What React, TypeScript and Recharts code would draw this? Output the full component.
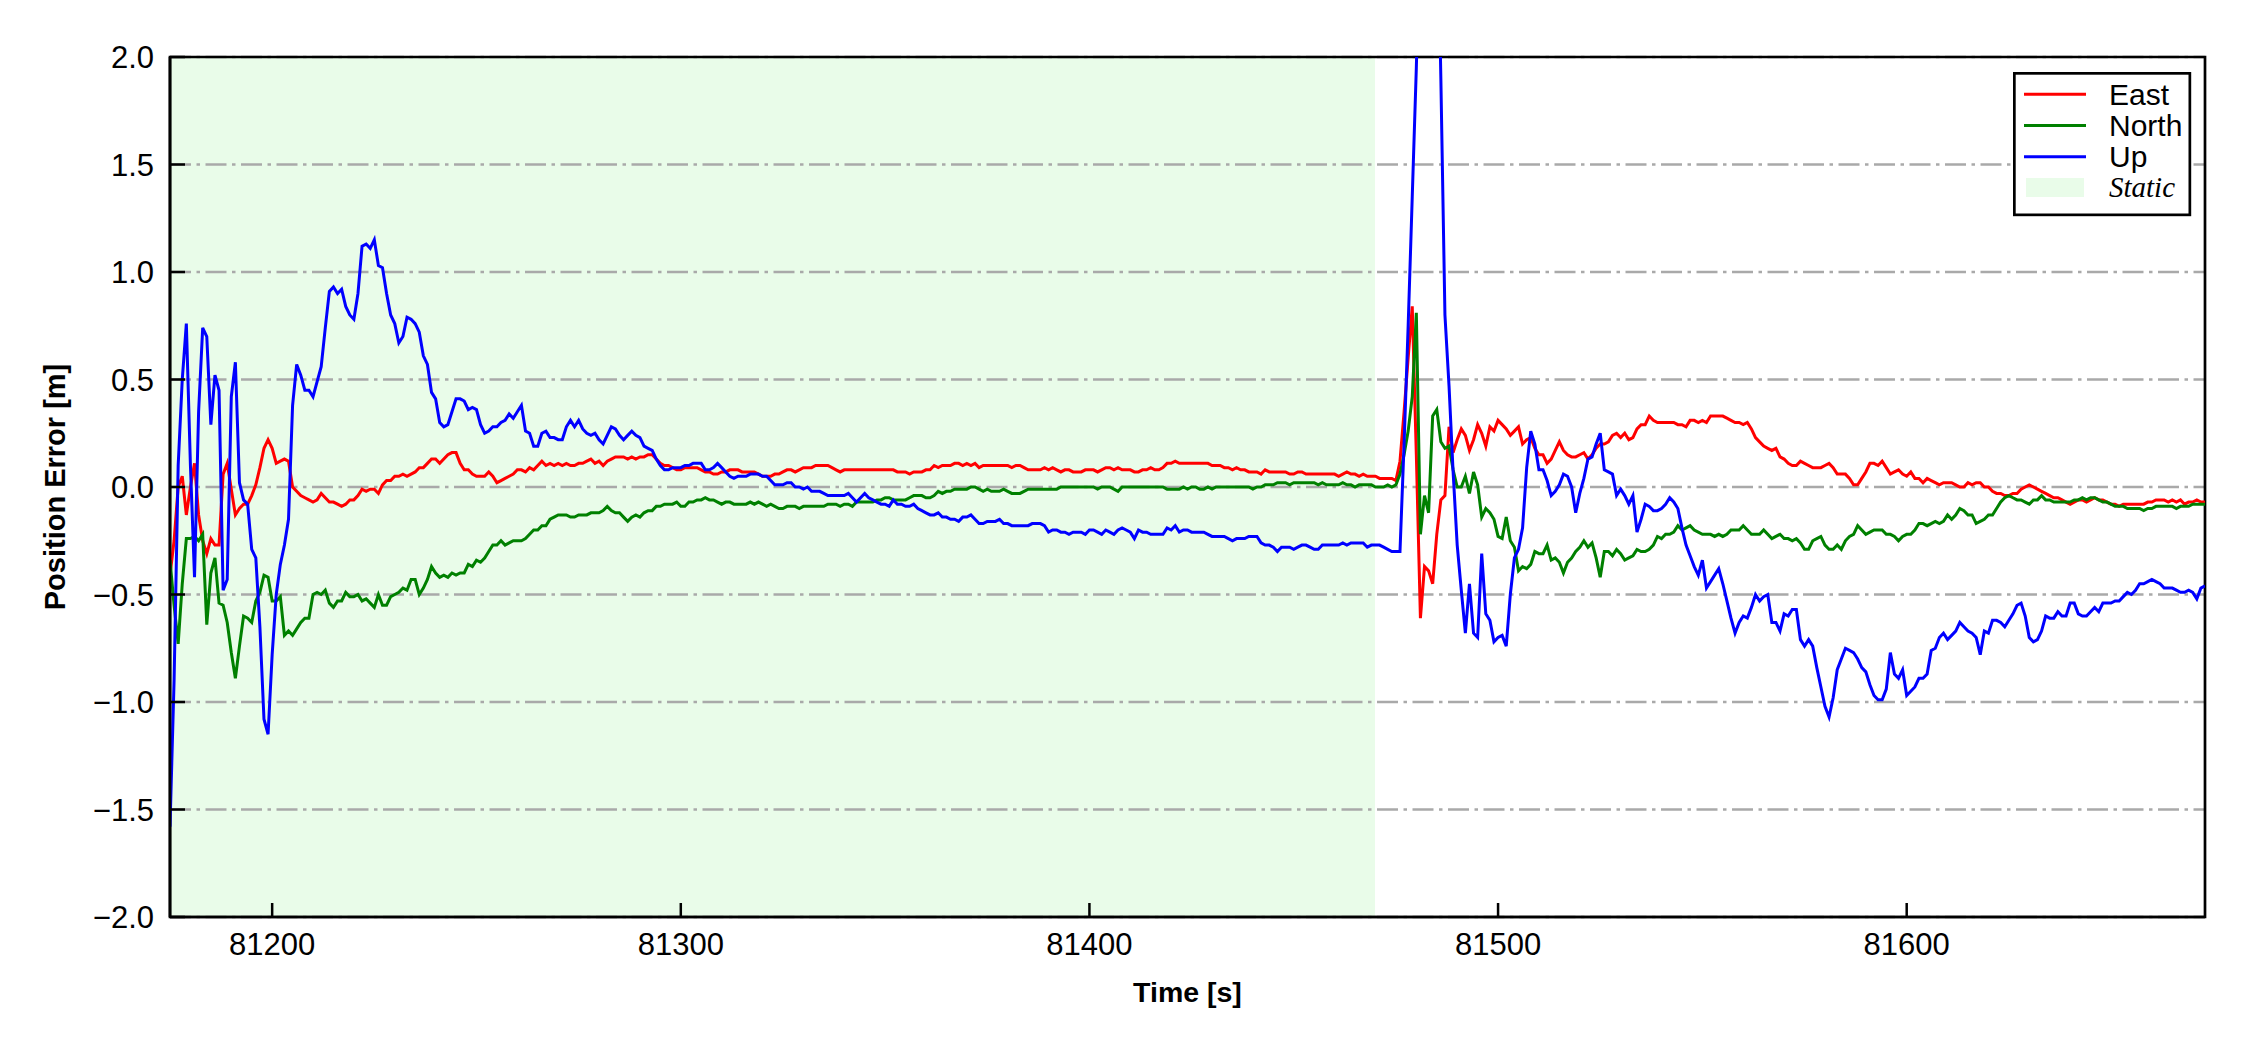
import React from 'react';
import {
  LineChart,
  Line,
  XAxis,
  YAxis,
  CartesianGrid,
  ReferenceArea,
  Legend,
  Label
} from 'recharts';

// position error per epoch (1 s), starting at startTime
const startTime = 81175;
const endTime = 81673;
const staticEnd = 81470;

const east = [
  -0.41, -0.25, 0.00, 0.05, -0.13, 0.00, 0.11, -0.13, -0.25, -0.31,
  -0.24, -0.27, -0.27, 0.06, 0.11, -0.01, -0.13, -0.10, -0.08, -0.08,
  -0.04, 0.01, 0.09, 0.18, 0.22, 0.18, 0.11, 0.12, 0.13, 0.12,
  0.00, -0.02, -0.04, -0.05, -0.06, -0.07, -0.06, -0.03, -0.05, -0.07,
  -0.07, -0.08, -0.09, -0.08, -0.06, -0.06, -0.04, -0.01, -0.02, -0.01,
  -0.01, -0.03, 0.01, 0.03, 0.03, 0.05, 0.05, 0.06, 0.05, 0.06,
  0.07, 0.09, 0.09, 0.11, 0.13, 0.13, 0.11, 0.13, 0.15, 0.16,
  0.16, 0.11, 0.08, 0.08, 0.06, 0.05, 0.05, 0.05, 0.07, 0.05,
  0.02, 0.03, 0.04, 0.05, 0.06, 0.08, 0.08, 0.07, 0.09, 0.08,
  0.10, 0.12, 0.10, 0.11, 0.10, 0.11, 0.10, 0.11, 0.10, 0.10,
  0.11, 0.11, 0.12, 0.13, 0.11, 0.12, 0.10, 0.12, 0.13, 0.14,
  0.14, 0.14, 0.13, 0.14, 0.13, 0.14, 0.14, 0.15, 0.15, 0.13,
  0.11, 0.10, 0.10, 0.09, 0.08, 0.08, 0.09, 0.09, 0.09, 0.09,
  0.08, 0.07, 0.07, 0.06, 0.06, 0.07, 0.07, 0.08, 0.08, 0.08,
  0.07, 0.07, 0.07, 0.07, 0.06, 0.05, 0.05, 0.05, 0.06, 0.06,
  0.07, 0.08, 0.08, 0.07, 0.08, 0.09, 0.09, 0.09, 0.10, 0.10,
  0.10, 0.10, 0.09, 0.08, 0.07, 0.08, 0.08, 0.08, 0.08, 0.08,
  0.08, 0.08, 0.08, 0.08, 0.08, 0.08, 0.08, 0.08, 0.07, 0.07,
  0.07, 0.06, 0.07, 0.07, 0.07, 0.08, 0.08, 0.10, 0.09, 0.10,
  0.10, 0.10, 0.11, 0.11, 0.10, 0.11, 0.10, 0.11, 0.09, 0.10,
  0.10, 0.10, 0.10, 0.10, 0.10, 0.10, 0.09, 0.10, 0.10, 0.09,
  0.08, 0.08, 0.08, 0.08, 0.09, 0.08, 0.09, 0.08, 0.07, 0.08,
  0.08, 0.07, 0.07, 0.07, 0.08, 0.08, 0.08, 0.07, 0.08, 0.09,
  0.09, 0.08, 0.09, 0.08, 0.08, 0.08, 0.07, 0.07, 0.08, 0.08,
  0.09, 0.08, 0.08, 0.09, 0.11, 0.11, 0.12, 0.11, 0.11, 0.11,
  0.11, 0.11, 0.11, 0.11, 0.11, 0.10, 0.10, 0.10, 0.09, 0.09,
  0.08, 0.09, 0.08, 0.08, 0.07, 0.07, 0.07, 0.06, 0.08, 0.07,
  0.07, 0.07, 0.07, 0.07, 0.06, 0.06, 0.07, 0.07, 0.06, 0.06,
  0.06, 0.06, 0.06, 0.06, 0.06, 0.06, 0.05, 0.06, 0.07, 0.06,
  0.06, 0.05, 0.06, 0.05, 0.05, 0.05, 0.04, 0.04, 0.04, 0.04,
  0.03, 0.12, 0.35, 0.60, 0.84, 0.15, -0.61, -0.37, -0.39, -0.45,
  -0.22, -0.06, -0.04, 0.28, 0.16, 0.22, 0.27, 0.24, 0.17, 0.22,
  0.29, 0.25, 0.19, 0.28, 0.26, 0.31, 0.29, 0.27, 0.24, 0.26,
  0.28, 0.20, 0.22, 0.23, 0.18, 0.15, 0.15, 0.11, 0.13, 0.17,
  0.21, 0.17, 0.15, 0.14, 0.14, 0.15, 0.16, 0.13, 0.15, 0.18,
  0.20, 0.20, 0.21, 0.24, 0.25, 0.23, 0.25, 0.22, 0.23, 0.27,
  0.29, 0.29, 0.33, 0.31, 0.30, 0.30, 0.30, 0.30, 0.30, 0.29,
  0.29, 0.28, 0.31, 0.31, 0.30, 0.31, 0.30, 0.33, 0.33, 0.33,
  0.33, 0.32, 0.31, 0.30, 0.30, 0.29, 0.30, 0.27, 0.23, 0.21,
  0.19, 0.18, 0.17, 0.18, 0.14, 0.13, 0.11, 0.10, 0.10, 0.12,
  0.11, 0.10, 0.09, 0.09, 0.09, 0.10, 0.11, 0.09, 0.06, 0.06,
  0.06, 0.04, 0.01, 0.01, 0.04, 0.07, 0.11, 0.11, 0.10, 0.12,
  0.09, 0.06, 0.07, 0.08, 0.06, 0.05, 0.07, 0.04, 0.04, 0.02,
  0.04, 0.03, 0.02, 0.01, 0.02, 0.02, 0.02, 0.01, 0.00, 0.00,
  0.02, 0.01, 0.02, 0.02, 0.00, 0.00, -0.02, -0.03, -0.03, -0.04,
  -0.04, -0.03, -0.03, -0.01, 0.00, 0.01, 0.00, -0.01, -0.02, -0.03,
  -0.04, -0.05, -0.05, -0.06, -0.07, -0.08, -0.07, -0.06, -0.06, -0.07,
  -0.06, -0.05, -0.06, -0.06, -0.07, -0.08, -0.08, -0.09, -0.08, -0.08,
  -0.08, -0.08, -0.08, -0.08, -0.07, -0.07, -0.06, -0.06, -0.06, -0.07,
  -0.06, -0.07, -0.06, -0.08, -0.07, -0.07, -0.06, -0.07, -0.07
];

const north = [
  -0.34, -0.55, -0.73, -0.45, -0.24, -0.24, -0.23, -0.25, -0.22, -0.64,
  -0.40, -0.33, -0.54, -0.55, -0.63, -0.77, -0.89, -0.74, -0.60, -0.61,
  -0.63, -0.53, -0.49, -0.41, -0.42, -0.53, -0.53, -0.51, -0.69, -0.67,
  -0.69, -0.66, -0.63, -0.61, -0.61, -0.50, -0.49, -0.50, -0.48, -0.54,
  -0.56, -0.53, -0.53, -0.49, -0.51, -0.51, -0.50, -0.53, -0.52, -0.54,
  -0.56, -0.50, -0.55, -0.55, -0.51, -0.50, -0.49, -0.47, -0.48, -0.43,
  -0.43, -0.50, -0.47, -0.43, -0.37, -0.40, -0.42, -0.41, -0.42, -0.40,
  -0.41, -0.40, -0.40, -0.36, -0.37, -0.34, -0.35, -0.33, -0.30, -0.27,
  -0.27, -0.25, -0.27, -0.26, -0.25, -0.25, -0.25, -0.24, -0.22, -0.20,
  -0.20, -0.18, -0.18, -0.15, -0.14, -0.13, -0.13, -0.13, -0.14, -0.14,
  -0.13, -0.13, -0.13, -0.12, -0.12, -0.12, -0.11, -0.09, -0.11, -0.12,
  -0.12, -0.14, -0.16, -0.14, -0.13, -0.14, -0.12, -0.11, -0.11, -0.09,
  -0.09, -0.08, -0.08, -0.08, -0.07, -0.09, -0.09, -0.07, -0.07, -0.06,
  -0.06, -0.05, -0.06, -0.06, -0.07, -0.08, -0.07, -0.07, -0.08, -0.08,
  -0.08, -0.08, -0.07, -0.08, -0.07, -0.08, -0.09, -0.08, -0.09, -0.10,
  -0.10, -0.09, -0.09, -0.09, -0.10, -0.09, -0.09, -0.09, -0.09, -0.09,
  -0.09, -0.08, -0.08, -0.08, -0.09, -0.08, -0.08, -0.09, -0.07, -0.07,
  -0.07, -0.07, -0.07, -0.06, -0.06, -0.05, -0.05, -0.06, -0.06, -0.06,
  -0.06, -0.05, -0.04, -0.04, -0.04, -0.05, -0.05, -0.04, -0.02, -0.03,
  -0.02, -0.02, -0.01, -0.01, -0.01, -0.01, 0.00, 0.00, -0.01, -0.02,
  -0.01, -0.02, -0.02, -0.02, -0.01, -0.02, -0.03, -0.03, -0.03, -0.02,
  -0.01, -0.01, -0.01, -0.01, -0.01, -0.01, -0.01, -0.01, 0.00, 0.00,
  0.00, 0.00, 0.00, 0.00, 0.00, 0.00, 0.00, -0.01, 0.00, 0.00,
  0.00, -0.01, -0.02, 0.00, 0.00, 0.00, 0.00, 0.00, 0.00, 0.00,
  0.00, 0.00, 0.00, 0.00, -0.01, -0.01, -0.01, -0.01, 0.00, -0.01,
  0.00, 0.00, -0.01, -0.01, 0.00, -0.01, 0.00, 0.00, 0.00, 0.00,
  0.00, 0.00, 0.00, 0.00, 0.00, -0.01, 0.00, 0.00, 0.01, 0.01,
  0.01, 0.02, 0.02, 0.02, 0.01, 0.02, 0.02, 0.02, 0.02, 0.02,
  0.02, 0.01, 0.02, 0.01, 0.01, 0.01, 0.01, 0.02, 0.01, 0.01,
  0.00, 0.01, 0.01, 0.01, 0.01, 0.00, 0.00, 0.00, 0.01, 0.00,
  0.01, 0.06, 0.15, 0.26, 0.42, 0.81, -0.22, -0.04, -0.12, 0.33,
  0.36, 0.21, 0.18, 0.19, 0.08, 0.00, 0.00, 0.05, -0.03, 0.07,
  0.01, -0.14, -0.10, -0.12, -0.15, -0.23, -0.24, -0.14, -0.25, -0.28,
  -0.39, -0.37, -0.38, -0.36, -0.30, -0.31, -0.31, -0.27, -0.34, -0.33,
  -0.35, -0.40, -0.35, -0.33, -0.30, -0.28, -0.25, -0.28, -0.26, -0.33,
  -0.42, -0.30, -0.30, -0.32, -0.29, -0.31, -0.34, -0.33, -0.32, -0.29,
  -0.30, -0.30, -0.29, -0.27, -0.23, -0.24, -0.22, -0.22, -0.21, -0.18,
  -0.20, -0.19, -0.18, -0.20, -0.21, -0.22, -0.22, -0.22, -0.23, -0.22,
  -0.23, -0.22, -0.20, -0.20, -0.20, -0.18, -0.20, -0.22, -0.22, -0.22,
  -0.20, -0.22, -0.24, -0.23, -0.22, -0.24, -0.24, -0.25, -0.24, -0.26,
  -0.29, -0.29, -0.25, -0.24, -0.23, -0.27, -0.29, -0.29, -0.27, -0.29,
  -0.25, -0.23, -0.22, -0.18, -0.20, -0.22, -0.21, -0.20, -0.20, -0.20,
  -0.22, -0.22, -0.23, -0.25, -0.23, -0.22, -0.22, -0.20, -0.17, -0.17,
  -0.18, -0.17, -0.16, -0.17, -0.16, -0.13, -0.15, -0.13, -0.10, -0.11,
  -0.13, -0.13, -0.17, -0.16, -0.15, -0.13, -0.13, -0.10, -0.07, -0.05,
  -0.04, -0.05, -0.06, -0.06, -0.07, -0.08, -0.06, -0.06, -0.04, -0.06,
  -0.06, -0.07, -0.07, -0.07, -0.07, -0.07, -0.06, -0.06, -0.05, -0.06,
  -0.05, -0.05, -0.06, -0.07, -0.07, -0.08, -0.09, -0.09, -0.09, -0.10,
  -0.10, -0.10, -0.10, -0.11, -0.10, -0.10, -0.09, -0.09, -0.09, -0.09,
  -0.09, -0.10, -0.09, -0.09, -0.09, -0.08, -0.08, -0.08, -0.08
];

const up = [
  -1.58, -0.90, 0.10, 0.50, 0.76, 0.10, -0.42, 0.35, 0.74, 0.70,
  0.29, 0.52, 0.45, -0.48, -0.43, 0.42, 0.58, 0.02, -0.06, -0.08,
  -0.29, -0.33, -0.65, -1.08, -1.15, -0.78, -0.50, -0.36, -0.27, -0.15,
  0.38, 0.57, 0.52, 0.45, 0.45, 0.42, 0.49, 0.56, 0.74, 0.91,
  0.93, 0.90, 0.92, 0.84, 0.80, 0.78, 0.90, 1.12, 1.13, 1.11,
  1.15, 1.03, 1.02, 0.90, 0.80, 0.76, 0.67, 0.70, 0.79, 0.78,
  0.76, 0.72, 0.61, 0.57, 0.44, 0.41, 0.30, 0.28, 0.29, 0.35,
  0.41, 0.41, 0.40, 0.36, 0.37, 0.36, 0.29, 0.25, 0.26, 0.28,
  0.28, 0.30, 0.31, 0.34, 0.32, 0.35, 0.38, 0.26, 0.25, 0.19,
  0.19, 0.25, 0.26, 0.23, 0.23, 0.22, 0.22, 0.28, 0.31, 0.28,
  0.31, 0.27, 0.25, 0.24, 0.25, 0.22, 0.20, 0.24, 0.28, 0.27,
  0.24, 0.22, 0.24, 0.26, 0.24, 0.23, 0.19, 0.18, 0.17, 0.13,
  0.10, 0.08, 0.08, 0.09, 0.09, 0.09, 0.10, 0.10, 0.11, 0.11,
  0.11, 0.08, 0.08, 0.09, 0.11, 0.09, 0.07, 0.05, 0.04, 0.05,
  0.05, 0.05, 0.06, 0.06, 0.06, 0.05, 0.05, 0.03, 0.01, 0.01,
  0.01, 0.02, 0.02, 0.00, 0.00, -0.01, 0.00, -0.02, -0.02, -0.02,
  -0.03, -0.04, -0.04, -0.04, -0.04, -0.04, -0.03, -0.05, -0.07, -0.05,
  -0.03, -0.05, -0.06, -0.07, -0.08, -0.08, -0.09, -0.06, -0.08, -0.08,
  -0.09, -0.09, -0.08, -0.10, -0.11, -0.12, -0.13, -0.13, -0.12, -0.14,
  -0.14, -0.15, -0.15, -0.16, -0.14, -0.14, -0.13, -0.15, -0.17, -0.17,
  -0.16, -0.16, -0.16, -0.15, -0.17, -0.17, -0.18, -0.18, -0.18, -0.18,
  -0.18, -0.17, -0.17, -0.17, -0.18, -0.21, -0.20, -0.20, -0.21, -0.21,
  -0.22, -0.21, -0.21, -0.21, -0.22, -0.20, -0.20, -0.21, -0.22, -0.20,
  -0.21, -0.22, -0.20, -0.19, -0.20, -0.21, -0.24, -0.20, -0.21, -0.21,
  -0.22, -0.22, -0.22, -0.22, -0.19, -0.20, -0.18, -0.21, -0.20, -0.20,
  -0.21, -0.21, -0.21, -0.21, -0.22, -0.23, -0.23, -0.23, -0.23, -0.24,
  -0.25, -0.24, -0.24, -0.24, -0.23, -0.23, -0.23, -0.26, -0.27, -0.27,
  -0.28, -0.30, -0.28, -0.28, -0.28, -0.29, -0.28, -0.27, -0.27, -0.28,
  -0.29, -0.29, -0.27, -0.27, -0.27, -0.27, -0.27, -0.26, -0.27, -0.26,
  -0.26, -0.26, -0.26, -0.28, -0.27, -0.27, -0.27, -0.28, -0.29, -0.30,
  -0.30, -0.30, 0.20, 0.75, 1.35, 1.95, 2.70, 3.30, 3.50, 3.20,
  2.90, 1.90, 0.80, 0.47, 0.07, -0.27, -0.48, -0.68, -0.45, -0.68,
  -0.70, -0.31, -0.59, -0.62, -0.72, -0.70, -0.69, -0.74, -0.50, -0.33,
  -0.29, -0.19, 0.09, 0.26, 0.20, 0.08, 0.08, 0.03, -0.04, -0.02,
  0.01, 0.06, 0.05, 0.00, -0.12, -0.03, 0.04, 0.13, 0.14, 0.20,
  0.25, 0.08, 0.07, 0.06, -0.04, -0.01, -0.04, -0.08, -0.04, -0.21,
  -0.15, -0.08, -0.09, -0.11, -0.11, -0.10, -0.08, -0.05, -0.07, -0.10,
  -0.19, -0.27, -0.32, -0.37, -0.41, -0.34, -0.47, -0.44, -0.41, -0.38,
  -0.45, -0.53, -0.61, -0.68, -0.63, -0.60, -0.61, -0.56, -0.50, -0.53,
  -0.51, -0.50, -0.63, -0.63, -0.67, -0.59, -0.60, -0.57, -0.57, -0.71,
  -0.74, -0.71, -0.74, -0.84, -0.93, -1.02, -1.07, -0.98, -0.85, -0.80,
  -0.75, -0.76, -0.77, -0.80, -0.84, -0.86, -0.92, -0.97, -0.99, -0.99,
  -0.94, -0.77, -0.87, -0.89, -0.85, -0.97, -0.95, -0.93, -0.89, -0.89,
  -0.87, -0.76, -0.75, -0.70, -0.68, -0.71, -0.69, -0.67, -0.63, -0.65,
  -0.67, -0.68, -0.70, -0.78, -0.67, -0.68, -0.62, -0.62, -0.63, -0.65,
  -0.62, -0.59, -0.55, -0.54, -0.60, -0.70, -0.72, -0.71, -0.67, -0.60,
  -0.61, -0.61, -0.58, -0.60, -0.60, -0.54, -0.54, -0.59, -0.60, -0.60,
  -0.58, -0.56, -0.58, -0.54, -0.54, -0.54, -0.53, -0.53, -0.51, -0.49,
  -0.50, -0.48, -0.45, -0.45, -0.44, -0.43, -0.44, -0.45, -0.47, -0.47,
  -0.47, -0.48, -0.49, -0.49, -0.48, -0.49, -0.52, -0.47, -0.46
];

const xTicks = [81200, 81300, 81400, 81500, 81600];
const yTicks = [-2, -1.5, -1, -0.5, 0, 0.5, 1, 1.5, 2];
const yMin = -2;
const yMax = 2;

const series = [
  { key: 'east', name: 'East', color: '#ff0000' },
  { key: 'north', name: 'North', color: '#008000' },
  { key: 'up', name: 'Up', color: '#0000ff' }
];

const data = east.map((e, i) => ({
  t: startTime + i,
  east: e,
  north: north[i],
  up: up[i]
}));

const FONT = '"Liberation Sans", Arial, Helvetica, sans-serif';
const STATIC_FILL = '#e9fce9';
const GRID_STROKE = '#a9a9a9';
const GRID_DASH = '21 5.5 3.5 5.5';
const FRAME = { stroke: '#000', strokeWidth: 2.7 };

const fmtY = (v: number) => (v < 0 ? '\u2212' : '') + Math.abs(v).toFixed(1);

// stripe boundaries for the static span, taken from the x axis scale
const staticBounds = (args: any) => {
  const { xAxis, offset } = args;
  if (xAxis && typeof xAxis.scale === 'function') {
    return [Math.round(xAxis.scale(startTime)), Math.round(xAxis.scale(staticEnd))];
  }
  const px = (t: number) => offset.left + (offset.width * (t - startTime)) / (endTime - startTime);
  return [Math.round(px(startTime)), Math.round(px(staticEnd))];
};

// the stripes need vertical grid lines switched on; draw them as nothing
const NoLine = () => <g />;

const XTick = (props: any) => {
  const { x, y, payload } = props;
  return (
    <g>
      <line x1={x} x2={x} y1={y} y2={y - 14} stroke="#000" strokeWidth={2.5} />
      <text x={x} y={y + 38} textAnchor="middle" fontSize={31} fontFamily={FONT} fill="#000">
        {payload.value}
      </text>
    </g>
  );
};

const YTick = (props: any) => {
  const { x, y, payload } = props;
  return (
    <g>
      <line x1={x} x2={x + 15} y1={y} y2={y} stroke="#000" strokeWidth={2.5} />
      <text x={x - 16} y={y + 11} textAnchor="end" fontSize={31} fontFamily={FONT} fill="#000">
        {fmtY(payload.value)}
      </text>
    </g>
  );
};

const LegendBox = (props: any) => {
  const payload = props.payload || [];
  const items = series.map((s) => {
    const p = payload.find((q: any) => q.value === s.name);
    return { name: s.name, color: p ? p.color : s.color };
  });
  return (
    <svg width={180} height={146}>
      <rect x={1.35} y={1.35} width={175.5} height={141.5} fill="#fff" stroke="#000" strokeWidth={2.7} />
      {items.map((it, i) => (
        <g key={it.name}>
          <line x1={11} x2={73} y1={22.3 + 31.2 * i} y2={22.3 + 31.2 * i} stroke={it.color} strokeWidth={3} />
          <text x={96} y={33 + 31 * i} fontSize={30} fontFamily={FONT} fill="#000">
            {it.name}
          </text>
        </g>
      ))}
      <rect x={13} y={106} width={58} height={19} fill={STATIC_FILL} />
      <text x={96} y={124.5} fontSize={29} fontStyle="italic" fontFamily='"Liberation Serif", "Times New Roman", serif' fill="#000">
        Static
      </text>
    </svg>
  );
};

const XLabel = (props: any) => {
  const vb = props.viewBox;
  return (
    <text x={vb.x + vb.width / 2} y={vb.y + 85} textAnchor="middle" fontSize={28.5} fontWeight="bold" fontFamily={FONT} fill="#000">
      Time [s]
    </text>
  );
};

const YLabel = (props: any) => {
  const vb = props.viewBox;
  return (
    <text
      transform={`translate(${vb.x - 5}, ${vb.y + vb.height / 2}) rotate(-90)`}
      textAnchor="middle"
      fontSize={29}
      fontWeight="bold"
      fontFamily={FONT}
      fill="#000"
    >
      Position Error [m]
    </text>
  );
};

const App: React.FC = () => {
  return (
    <div style={{ position: 'absolute', left: 0, top: 0, width: 2250, height: 1050, background: '#fff' }}>
      <LineChart
        width={2250}
        height={1050}
        data={data}
        margin={{ top: 57, right: 45, bottom: 33, left: 70 }}
      >
        {/* static span: a grid stripe only */}
        <CartesianGrid
          horizontal={false}
          vertical={NoLine}
          verticalCoordinatesGenerator={staticBounds}
          verticalFill={[STATIC_FILL, 'none']}
        />
        {/* dash-dot horizontal grid, drawn after the stripe */}
        <CartesianGrid
          vertical={false}
          stroke={GRID_STROKE}
          strokeWidth={2.5}
          strokeDasharray={GRID_DASH}
        />
        <XAxis
          dataKey="t"
          type="number"
          domain={[startTime, endTime]}
          ticks={xTicks}
          allowDataOverflow
          height={100}
          tickSize={0}
          tickMargin={0}
          tickLine={false}
          tick={<XTick />}
          axisLine={FRAME}
        >
          <Label content={<XLabel />} />
        </XAxis>
        <YAxis
          type="number"
          domain={[yMin, yMax]}
          ticks={yTicks}
          allowDataOverflow
          width={100}
          tickSize={0}
          tickMargin={0}
          tickLine={false}
          tick={<YTick />}
          axisLine={FRAME}
        >
          <Label content={<YLabel />} />
        </YAxis>
        {series.map((s) => (
          <Line
            key={s.key}
            type="linear"
            dataKey={s.key}
            name={s.name}
            stroke={s.color}
            strokeWidth={3}
            dot={false}
            activeDot={false}
            isAnimationActive={false}
          />
        ))}
        {/* axes frame */}
        <ReferenceArea
          x1={startTime}
          x2={endTime}
          y1={yMin}
          y2={yMax}
          fill="none"
          stroke="#000"
          strokeWidth={2.7}
        />
        <Legend
          layout="horizontal"
          verticalAlign="middle"
          align="center"
          content={<LegendBox />}
          wrapperStyle={{ position: 'absolute', left: 2013, top: 72, width: 180, height: 146 }}
        />
      </LineChart>
    </div>
  );
};

export default App;
